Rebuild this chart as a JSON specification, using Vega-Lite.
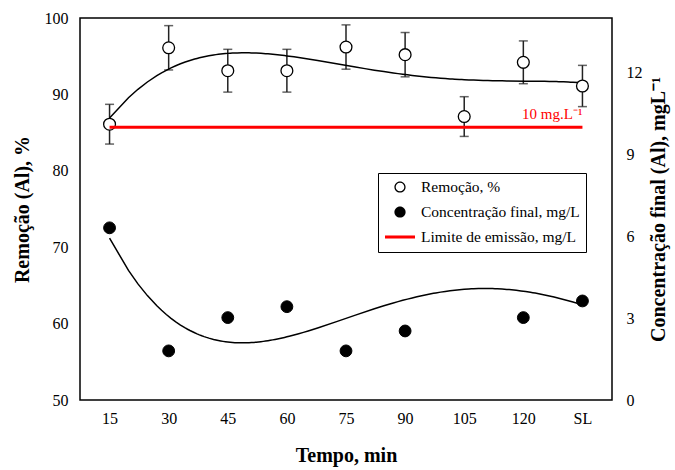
{
  "$schema": "https://vega.github.io/schema/vega-lite/v6.json",
  "width": 532,
  "height": 382,
  "autosize": {"type": "none"},
  "padding": {"left": 80, "top": 18, "right": 63, "bottom": 70},
  "background": "white",
  "config": {
    "font": "serif",
    "view": {"stroke": "black", "strokeWidth": 1.5},
    "legend": {"labelFont": "serif"},
    "axis": {
      "grid": false, "ticks": false, "domain": false,
      "labelFont": "serif", "labelFontSize": 16, "labelColor": "black",
      "titleFont": "serif", "titleFontSize": 20, "titleFontWeight": "bold", "titleColor": "black"
    }
  },
  "datasets": {
    "rem": [
      {"t": 15, "rem": 86.1, "lo": 83.5, "hi": 88.7},
      {"t": 30, "rem": 96.1, "lo": 93.2, "hi": 99.0},
      {"t": 45, "rem": 93.1, "lo": 90.3, "hi": 95.9},
      {"t": 60, "rem": 93.1, "lo": 90.3, "hi": 95.9},
      {"t": 75, "rem": 96.2, "lo": 93.3, "hi": 99.1},
      {"t": 90, "rem": 95.2, "lo": 92.3, "hi": 98.1},
      {"t": 105, "rem": 87.1, "lo": 84.5, "hi": 89.7},
      {"t": 120, "rem": 94.2, "lo": 91.4, "hi": 97.0},
      {"t": 135, "rem": 91.1, "lo": 88.4, "hi": 93.8}
    ],
    "conc": [
      {"t": 15, "conc": 6.31},
      {"t": 30, "conc": 1.80},
      {"t": 45, "conc": 3.02},
      {"t": 60, "conc": 3.42},
      {"t": 75, "conc": 1.80},
      {"t": 90, "conc": 2.53},
      {"t": 105, "conc": 6.1},
      {"t": 120, "conc": 3.02},
      {"t": 135, "conc": 3.63}
    ],
    "limit": [
      {"t0": 15, "t1": 135, "lim": 10, "label": "10 mg.L⁻¹"}
    ],
    "series": [
      {"t": 15, "series": "Remoção, %"},
      {"t": 15, "series": "Concentração final, mg/L"},
      {"t": 15, "series": "Limite de emissão, mg/L"}
    ]
  },
  "encoding": {
    "x": {
      "field": "t", "type": "quantitative",
      "scale": {"domain": [7.5, 142.5], "nice": false, "zero": false},
      "axis": {
        "values": [15, 30, 45, 60, 75, 90, 105, 120, 135],
        "labelExpr": "datum.value == 135 ? 'SL' : datum.label",
        "title": "Tempo, min", "labelPadding": 10, "titlePadding": 19, "labelFlush": false,
        "labelFont": "serif", "titleFont": "serif"
      }
    }
  },
  "layer": [
    {
      "data": {"name": "rem"},
      "layer": [
        {
          "mark": {"type": "rule", "color": "#222", "strokeWidth": 1.5},
          "encoding": {
            "y": {"field": "lo", "type": "quantitative", "scale": {"domain": [50, 100], "nice": false, "zero": false}, "axis": {"title": "Remoção (Al), %", "values": [50, 60, 70, 80, 90, 100], "labelPadding": 12, "titlePadding": 12, "labelFont": "serif", "titleFont": "serif"}},
            "y2": {"field": "hi"}
          }
        },
        {
          "mark": {"type": "tick", "color": "#222", "orient": "horizontal", "size": 9, "thickness": 1.5},
          "encoding": {
            "y": {"field": "lo", "type": "quantitative", "scale": {"domain": [50, 100], "nice": false, "zero": false}, "axis": {"title": "Remoção (Al), %", "values": [50, 60, 70, 80, 90, 100], "labelPadding": 12, "titlePadding": 12, "labelFont": "serif", "titleFont": "serif"}}
          }
        },
        {
          "mark": {"type": "tick", "color": "#222", "orient": "horizontal", "size": 9, "thickness": 1.5},
          "encoding": {
            "y": {"field": "hi", "type": "quantitative", "scale": {"domain": [50, 100], "nice": false, "zero": false}, "axis": {"title": "Remoção (Al), %", "values": [50, 60, 70, 80, 90, 100], "labelPadding": 12, "titlePadding": 12, "labelFont": "serif", "titleFont": "serif"}}
          }
        },
        {
          "transform": [{"regression": "rem", "on": "t", "method": "poly", "order": 4, "extent": [15, 135]}],
          "mark": {"type": "line", "color": "black", "strokeWidth": 1.5},
          "encoding": {
            "y": {"field": "rem", "type": "quantitative", "scale": {"domain": [50, 100], "nice": false, "zero": false}, "axis": {"title": "Remoção (Al), %", "values": [50, 60, 70, 80, 90, 100], "labelPadding": 12, "titlePadding": 12, "labelFont": "serif", "titleFont": "serif"}}
          }
        },
        {
          "mark": {"type": "point", "filled": true, "opacity": 1, "fill": "white", "stroke": "black", "strokeWidth": 1.3, "size": 140},
          "encoding": {
            "y": {"field": "rem", "type": "quantitative", "scale": {"domain": [50, 100], "nice": false, "zero": false}, "axis": {"title": "Remoção (Al), %", "values": [50, 60, 70, 80, 90, 100], "labelPadding": 12, "titlePadding": 12, "labelFont": "serif", "titleFont": "serif"}}
          }
        }
      ]
    },
    {
      "layer": [
        {
          "data": {"name": "conc"},
          "transform": [{"regression": "conc", "on": "t", "method": "poly", "order": 4, "extent": [15, 135]}],
          "mark": {"type": "line", "color": "black", "strokeWidth": 1.5},
          "encoding": {
            "y": {"field": "conc", "type": "quantitative", "scale": {"domain": [0, 14], "nice": false}, "axis": {"title": "Concentração final (Al), mgL⁻¹", "values": [0, 3, 6, 9, 12], "labelPadding": 14, "titlePadding": 6, "titleAngle": 270, "titleBaseline": "top", "labelFont": "serif", "titleFont": "serif"}}
          }
        },
        {
          "data": {"name": "limit"},
          "mark": {"type": "rule", "color": "#ff0000", "strokeWidth": 3},
          "encoding": {
            "x": {"field": "t0", "type": "quantitative"},
            "x2": {"field": "t1"},
            "y": {"field": "lim", "type": "quantitative", "scale": {"domain": [0, 14], "nice": false}, "axis": {"title": "Concentração final (Al), mgL⁻¹", "values": [0, 3, 6, 9, 12], "labelPadding": 14, "titlePadding": 6, "titleAngle": 270, "titleBaseline": "top", "labelFont": "serif", "titleFont": "serif"}}
          }
        },
        {
          "data": {"name": "limit"},
          "mark": {"type": "text", "color": "#ff0000", "fontSize": 15, "font": "serif", "align": "right", "dy": -13, "dx": 0},
          "encoding": {
            "x": {"field": "t1", "type": "quantitative"},
            "y": {"field": "lim", "type": "quantitative", "scale": {"domain": [0, 14], "nice": false}, "axis": {"title": "Concentração final (Al), mgL⁻¹", "values": [0, 3, 6, 9, 12], "labelPadding": 14, "titlePadding": 6, "titleAngle": 270, "titleBaseline": "top", "labelFont": "serif", "titleFont": "serif"}},
            "text": {"field": "label"}
          }
        },
        {
          "data": {"name": "conc"},
          "mark": {"type": "point", "filled": true, "opacity": 1, "fill": "black", "stroke": "black", "strokeWidth": 1, "size": 140},
          "encoding": {
            "y": {"field": "conc", "type": "quantitative", "scale": {"domain": [0, 14], "nice": false}, "axis": {"title": "Concentração final (Al), mgL⁻¹", "values": [0, 3, 6, 9, 12], "labelPadding": 14, "titlePadding": 6, "titleAngle": 270, "titleBaseline": "top", "labelFont": "serif", "titleFont": "serif"}}
          }
        },
        {
          "data": {"name": "series"},
          "mark": {"type": "point", "filled": true, "opacity": 0, "size": 256},
          "encoding": {
            "fill": {"field": "series", "type": "nominal",
              "scale": {"domain": ["Remoção, %", "Concentração final, mg/L", "Limite de emissão, mg/L"], "range": ["black", "black", "#ff0000"]},
              "legend": {"title": null, "orient": "none", "legendX": 298, "legendY": 155, "labelFontSize": 15.5, "labelFont": "serif", "labelColor": "black", "strokeColor": "black", "fillColor": "white", "padding": 6, "rowPadding": 8, "symbolOffset": 8, "labelOffset": 13, "labelLimit": 300, "symbolSize": 256, "symbolOpacity": 1, "symbolStrokeWidth": 0, "symbolStrokeColor": "transparent"}},
            "shape": {"field": "series", "type": "nominal",
              "scale": {"domain": ["Remoção, %", "Concentração final, mg/L", "Limite de emissão, mg/L"], "range": [
                "M -0.7 0 A 0.7 0.7 0 1 0 0.7 0 A 0.7 0.7 0 1 0 -0.7 0 Z M -0.54 0 A 0.54 0.54 0 1 1 0.54 0 A 0.54 0.54 0 1 1 -0.54 0 Z",
                "M -0.7 0 A 0.7 0.7 0 1 0 0.7 0 A 0.7 0.7 0 1 0 -0.7 0 Z",
                "M -1.875 -0.19 L 1.875 -0.19 L 1.875 0.19 L -1.875 0.19 Z"
              ]},
              "legend": {"title": null, "orient": "none", "legendX": 298, "legendY": 155, "labelFontSize": 15.5, "labelFont": "serif", "labelColor": "black", "strokeColor": "black", "fillColor": "white", "padding": 6, "rowPadding": 8, "symbolOffset": 8, "labelOffset": 13, "labelLimit": 300, "symbolSize": 256, "symbolOpacity": 1, "symbolStrokeWidth": 0, "symbolStrokeColor": "transparent"}}
          }
        }
      ]
    }
  ],
  "resolve": {"scale": {"y": "independent"}}
}
